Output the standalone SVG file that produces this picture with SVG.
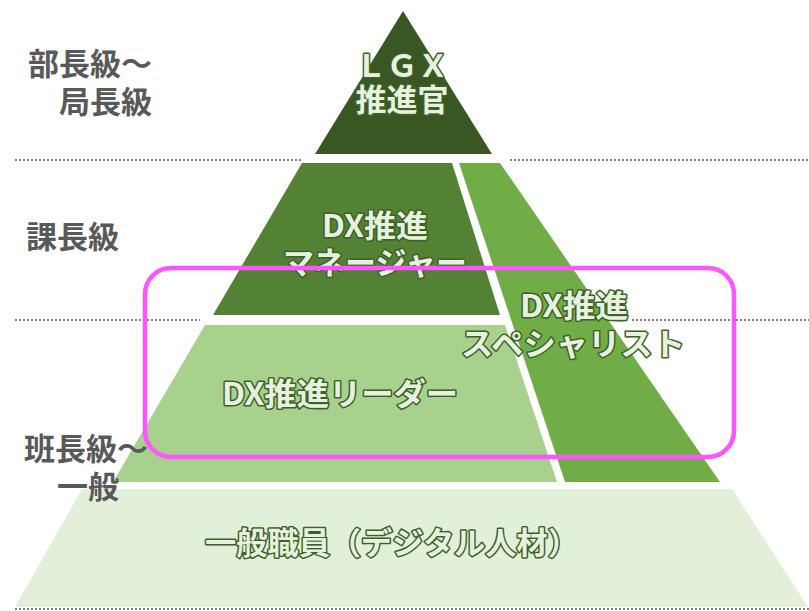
<svg xmlns="http://www.w3.org/2000/svg" width="809" height="611" viewBox="0 0 809 611">
<style>
.lbl{font-family:"Noto Sans CJK JP","Noto Sans",sans-serif;font-weight:bold;font-size:31px;fill:#595959}
.t{font-family:"Noto Sans CJK JP","Noto Sans",sans-serif;font-weight:bold;font-size:31px;fill:#e6f2de;stroke:#3d5f2a;stroke-width:3;paint-order:stroke;stroke-linejoin:round;text-anchor:middle}
.dot{stroke:#808080;stroke-width:2;stroke-dasharray:2 2;fill:none}
</style>
<rect width="809" height="611" fill="#ffffff"/>
<g id="guides">
<line class="dot" x1="15" y1="160" x2="302" y2="160"/>
<line class="dot" x1="510" y1="160" x2="809" y2="160"/>
<line class="dot" x1="15" y1="320" x2="200" y2="320"/>
<line class="dot" x1="632" y1="320" x2="809" y2="320"/>
<line class="dot" x1="15" y1="609" x2="809" y2="609"/>
</g>
<g id="lgx">
<polygon points="403,11 492,154 315,154" fill="#385723"/>
<text class="t" x="402" y="77">ＬＧＸ</text>
<text class="t" x="402" y="111">推進官</text>
</g>
<g id="manager">
<polygon points="302,163 452,163 500,315 213,315" fill="#548235"/>
<text class="t" x="375" y="237" textLength="106" lengthAdjust="spacingAndGlyphs">DX推進</text>
<text class="t" x="375" y="274">マネージャー</text>
</g>
<g id="leader">
<polygon points="205,325 505,325 557,482 113,482" fill="#a9d18e"/>
<text class="t" x="340" y="405" textLength="236" lengthAdjust="spacingAndGlyphs">DX推進リーダー</text>
</g>
<g id="specialist">
<polygon points="459,163 500,163 720,482 565,482" fill="#70ad47"/>
<text class="t" x="574" y="317" textLength="108" lengthAdjust="spacingAndGlyphs">DX推進</text>
<text class="t" x="573" y="355" textLength="224" lengthAdjust="spacingAndGlyphs">スペシャリスト</text>
</g>
<g id="staff">
<polygon points="82,489 732,489 808,607 15,607" fill="#e2f0d9"/>
<text class="t" x="392" y="554" textLength="374" lengthAdjust="spacingAndGlyphs">一般職員（デジタル人材）</text>
</g>
<g id="labels">
<text class="lbl" x="152" y="75" text-anchor="end">部長級～</text>
<text class="lbl" x="152" y="113" text-anchor="end">局長級</text>
<text class="lbl" x="26" y="248">課長級</text>
<text class="lbl" x="24" y="460">班長級～</text>
<text class="lbl" x="119" y="498" text-anchor="end">一般</text>
</g>
<g id="connectors">
<rect x="145" y="268" width="589" height="189" rx="26" ry="26" fill="none" stroke="#ff55ff" stroke-width="4.5"/>
</g>
</svg>
